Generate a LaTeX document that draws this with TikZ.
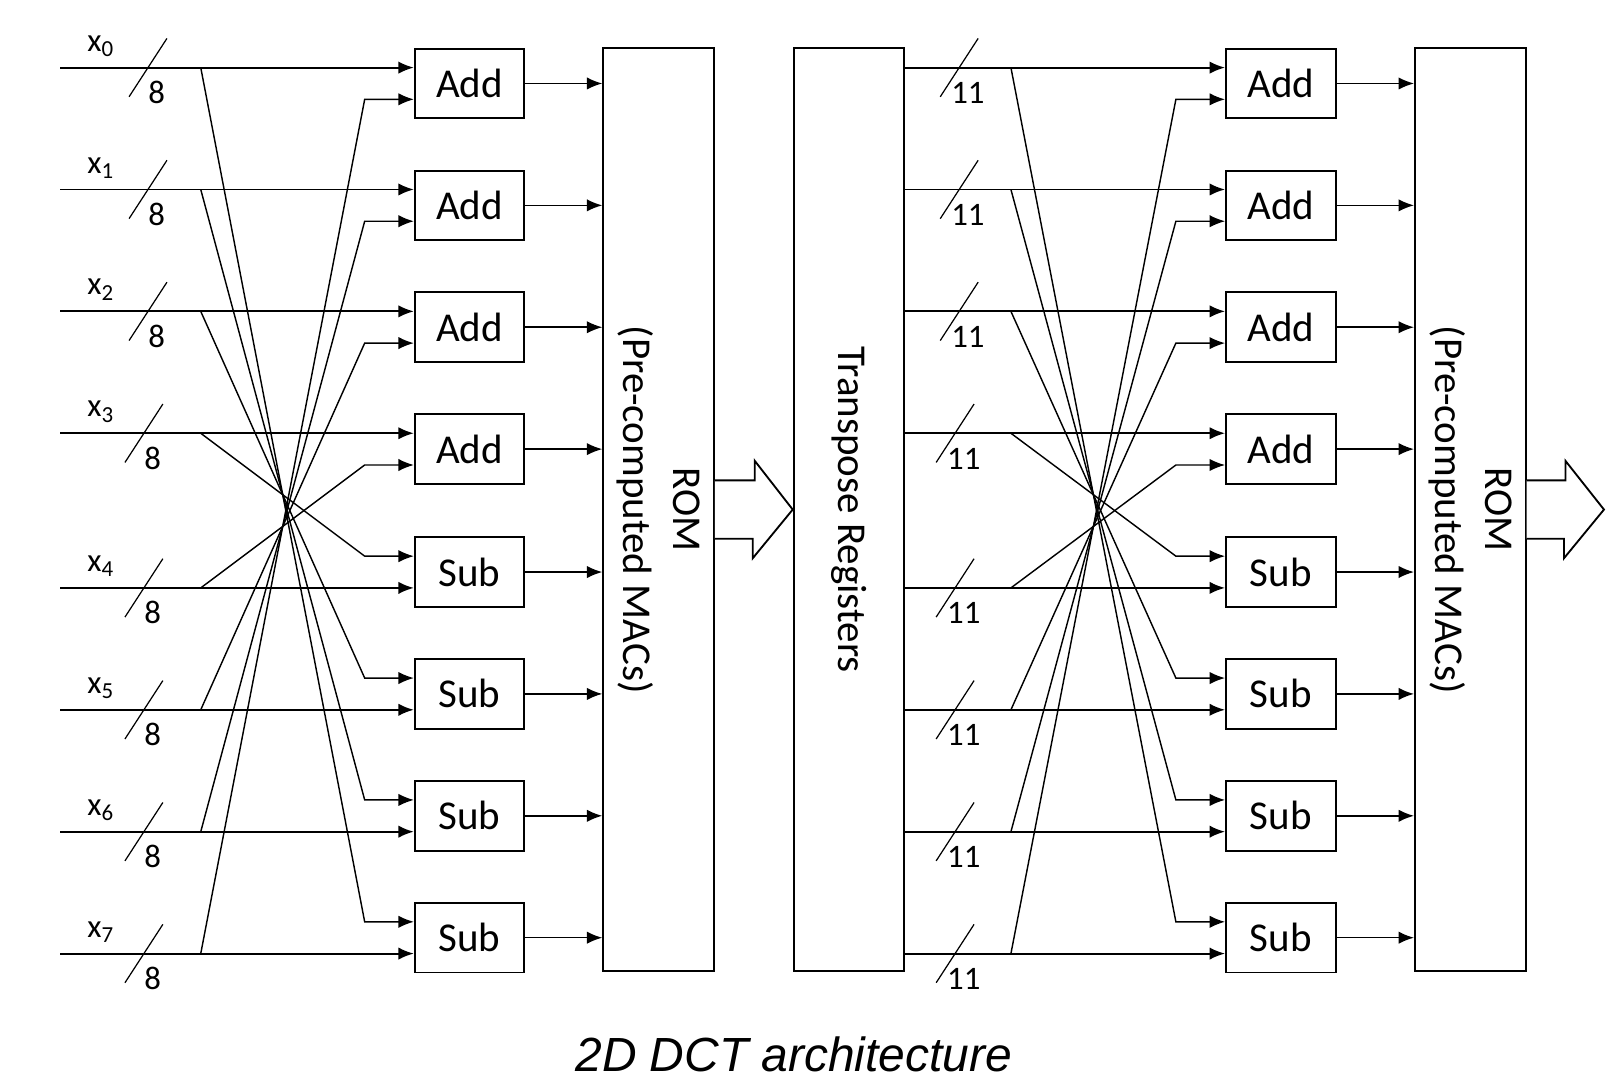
\documentclass[tikz,border=0pt]{standalone}
\usepackage{fontspec}
\setmainfont{Carlito}
\newfontfamily\capfont{Liberation Sans}
\usetikzlibrary{positioning}
\usetikzlibrary{arrows.meta}
\usetikzlibrary{calc}

\begin{document}
\begin{tikzpicture}[
  x=0.5pt, y=0.5pt,
  font=\fontsize{20}{24.5}\selectfont,
  box/.style={draw, line width=0.95pt, minimum width=53.5pt, minimum height=34pt, inner sep=0pt},
  tall/.style={draw, line width=0.95pt, minimum width=54pt, minimum height=450.5pt, inner sep=0pt},
  vtext/.style={rotate=-90, align=center},
  arrow/.style={-{Latex[length=7.5pt,width=6pt]}, line width=0.95pt},
  xarrow/.style={-{Latex[length=7.5pt,width=6pt]}, line width=0.7pt},
  outarrow/.style={-{Latex[length=7.5pt,width=6pt]}, line width=0.75pt},
  buswidth/.style={line width=0.6pt},
  lbl/.style={font=\fontsize{16}{18}\selectfont, inner sep=0pt},
  fat/.style={draw, line width=0.9pt, fill=white}
]
\useasboundingbox (0,0) rectangle (1568,-1053);

% Memory blocks
\node[tall] (rom1) at (643,-497.5) {};
\node[vtext] (romtxt1) at (rom1.center) {ROM\\(Pre-computed MACs)};
\node[tall, right=38pt of rom1] (tr) {};
\node[vtext] (trtxt) at (tr.center) {Transpose Registers};
\node[tall] (rom2) at (1435.5,-497.5) {};
\node[vtext] (romtxt2) at (rom2.center) {ROM\\(Pre-computed MACs)};

% Rows: inputs, bus widths, Add/Sub boxes
\foreach \i/\r in {0/66,1/185,2/304,3/423,4/574,5/693,6/812,7/931} {
  \pgfmathsetmacro{\dx}{\i<3 ? 0 : -4}
  \ifnum\i<4 \def\op{Add}\def\off{15.5}\else\def\op{Sub}\def\off{-15.5}\fi
  \pgfmathsetmacro{\cy}{-\r-(\off)}
  \node[box] (bL\i) at (458.5,\cy) {\op};
  \node[box] (bR\i) at (1250.5,\cy) {\op};
  \coordinate (inL\i) at (59,-\r);
  \coordinate (brL\i) at (196,-\r);
  \coordinate (brR\i) at (987,-\r);
  % left side
  \node[lbl, anchor=base west] (xl\i) at (85,-\r+16) {x\textsubscript{\i}};
  \draw[buswidth] (126+\dx,-\r-28.5) -- (163+\dx,-\r+28.5);
  \node[lbl, anchor=base] (wl\i) at (153+\dx,-\r-35) {8};
  \draw[arrow] (inL\i) -- (inL\i -| bL\i.west);
  \draw[outarrow] (bL\i.east) -- (bL\i.east -| rom1.west);
  % right side
  \draw[buswidth] (918+\dx,-\r-28.5) -- (955+\dx,-\r+28.5);
  \node[lbl, anchor=base] (wr\i) at (945+\dx,-\r-35) {11};
  \draw[arrow] (tr.east |- inL\i) -- (inL\i -| bR\i.west);
  \draw[outarrow] (bR\i.east) -- (bR\i.east -| rom2.west);
}

% Butterfly crossings
\foreach \i in {0,...,3} {
  \pgfmathtruncatemacro{\j}{7-\i}
  \draw[xarrow] (brL\i) -- ($(bL\j.west)+(-48,15.5)$) -- ($(bL\j.west)+(0,15.5)$);
  \draw[xarrow] (brL\j) -- ($(bL\i.west)+(-48,-15.5)$) -- ($(bL\i.west)+(0,-15.5)$);
  \draw[xarrow] (brR\i) -- ($(bR\j.west)+(-48,15.5)$) -- ($(bR\j.west)+(0,15.5)$);
  \draw[xarrow] (brR\j) -- ($(bR\i.west)+(-48,-15.5)$) -- ($(bR\i.west)+(0,-15.5)$);
}

% Wide transfer arrows
\coordinate (out) at (1566,-497.5);
\draw[fat] ($(rom1.east)+(0,28.5)$) -- ++(39,0) -- ++(0,19) -- (tr.west)
  -- ++(-39,-47.5) -- ++(0,19) -- ($(rom1.east)+(0,-28.5)$);
\draw[fat] ($(rom2.east)+(0,28.5)$) -- ++(38,0) -- ++(0,19) -- (out)
  -- ++(-39,-47.5) -- ++(0,19) -- ($(rom2.east)+(0,-28.5)$);

% Caption
\node[font=\capfont\itshape\fontsize{23.4}{28}\selectfont, anchor=base] (cap) at (775,-1046) {2D DCT architecture};

\end{tikzpicture}
\end{document}
